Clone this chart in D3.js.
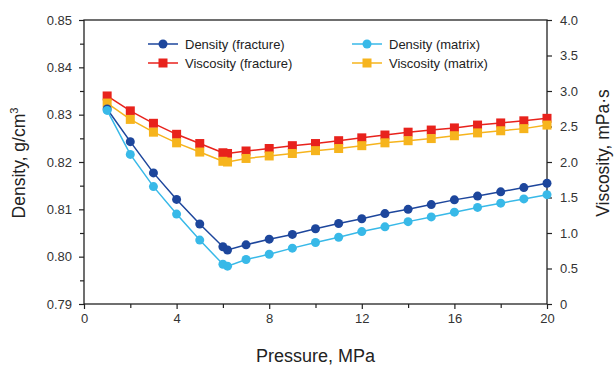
<!DOCTYPE html>
<html>
<head>
<meta charset="utf-8">
<script src="https://cdn.jsdelivr.net/npm/d3@7"></script>
<style>
  body { margin: 0; background: #fff; }
  text { font-family: "Liberation Sans", Arial, sans-serif; }
</style>
</head>
<body>
<div id="chart"></div>
<script>
// pressure, MPa (extra point at the bubble point near 6.2)
const pressure = [1, 2, 3, 4, 5, 6, 6.2, 7, 8, 9, 10, 11, 12, 13, 14, 15, 16, 17, 18, 19, 20]
const densityFracture = [0.8312, 0.8243, 0.8177, 0.8121, 0.8069, 0.8021, 0.8014, 0.8025, 0.8037, 0.8047, 0.8059,
  0.8070, 0.8080, 0.8091, 0.8100, 0.8110, 0.8120, 0.8128, 0.8137, 0.8146, 0.8155]
const densityMatrix = [0.8309, 0.8216, 0.8148, 0.8090, 0.8035, 0.7984, 0.7980, 0.7994, 0.8005, 0.8018, 0.8030,
  0.8041, 0.8053, 0.8063, 0.8074, 0.8084, 0.8094, 0.8104, 0.8113, 0.8122, 0.8131]
const viscosityFracture = [2.93, 2.72, 2.545, 2.39, 2.26, 2.13, 2.12, 2.155, 2.19, 2.23, 2.26,
  2.30, 2.34, 2.38, 2.42, 2.45, 2.48, 2.52, 2.55, 2.58, 2.615]
const viscosityMatrix = [2.83, 2.60, 2.42, 2.27, 2.14, 2.01, 2.00, 2.05, 2.085, 2.12, 2.16,
  2.19, 2.23, 2.27, 2.30, 2.33, 2.37, 2.41, 2.44, 2.47, 2.52]

const xTicks = [0, 4, 8, 12, 16, 20]
const xMinorTicks = [2, 6, 10, 14, 18]
const densityTicks = [0.79, 0.80, 0.81, 0.82, 0.83, 0.84, 0.85]
const densityMinorTicks = [0.795, 0.805, 0.815, 0.825, 0.835, 0.845]
const viscosityTicks = [0, 0.5, 1.0, 1.5, 2.0, 2.5, 3.0, 3.5, 4.0]

const SERIES = [
  { name: "Viscosity (fracture)", values: viscosityFracture, axis: "right", color: "#e8221c", shape: "square" },
  { name: "Viscosity (matrix)", values: viscosityMatrix, axis: "right", color: "#f6b41d", shape: "square" },
  { name: "Density (fracture)", values: densityFracture, axis: "left", color: "#1d469c", shape: "circle" },
  { name: "Density (matrix)", values: densityMatrix, axis: "left", color: "#38b9e8", shape: "circle" }
]
const LEGEND_ORDER = [2, 3, 0, 1]

var margin = {top: 20, right: 67, bottom: 64, left: 84}
var width = 614 - margin.left - margin.right
var height = 368 - margin.top - margin.bottom

var svg = d3.select("#chart").append("svg")
  .attr("width", 614)
  .attr("height", 368)
var g = svg.append("g")
  .attr("transform", "translate(" + margin.left + "," + margin.top + ")")

var x = d3.scaleLinear().domain([0, 20]).range([0, width])
var yLeft = d3.scaleLinear().domain([0.79, 0.85]).range([height, 0])
var yRight = d3.scaleLinear().domain([0, 4]).range([height, 0])

function styleAxis(sel) {
  sel.select(".domain").remove()
  sel.selectAll("line").attr("stroke", "#222").attr("stroke-width", 1.2)
  sel.selectAll("text").attr("fill", "#333").style("font-size", "13px")
}

// minor ticks
g.append("g")
  .attr("transform", "translate(0," + height + ")")
  .call(d3.axisBottom(x).tickValues(xMinorTicks).tickSize(4).tickFormat(""))
  .call(styleAxis)
g.append("g")
  .call(d3.axisLeft(yLeft).tickValues(densityMinorTicks).tickSize(4).tickFormat(""))
  .call(styleAxis)

// Add X axis
g.append("g")
  .attr("transform", "translate(0," + height + ")")
  .call(d3.axisBottom(x).tickValues(xTicks).tickSize(5).tickPadding(5).tickFormat(d3.format("d")))
  .call(styleAxis)
// Add Y axes
g.append("g")
  .call(d3.axisLeft(yLeft).tickValues(densityTicks).tickSize(5).tickPadding(7).tickFormat(d3.format(".2f")))
  .call(styleAxis)
g.append("g")
  .attr("transform", "translate(" + width + ",0)")
  .call(d3.axisRight(yRight).tickValues(viscosityTicks).tickSize(5).tickPadding(8)
    .tickFormat(d => d === 0 ? "0" : d3.format(".1f")(d)))
  .call(styleAxis)

// frame
g.append("rect")
  .attr("width", width)
  .attr("height", height)
  .attr("fill", "none")
  .attr("stroke", "#222")
  .attr("stroke-width", 1.3)

// Add the lines
for (let s of SERIES) {
  var y = s.axis == "left" ? yLeft : yRight
  var pts = pressure.map((p, i) => [x(p), y(s.values[i])])
  g.append("path")
    .datum(pts)
    .attr("fill", "none")
    .attr("stroke", s.color)
    .attr("stroke-width", 1.5)
    .attr("d", d3.line())
  drawMarkers(g, pts, s)
}

function drawMarkers(parent, pts, s) {
  if (s.shape == "circle") {
    parent.append("g").selectAll("circle")
      .data(pts).join("circle")
      .attr("cx", d => d[0])
      .attr("cy", d => d[1])
      .attr("r", 4.5)
      .attr("fill", s.color)
  } else {
    parent.append("g").selectAll("rect")
      .data(pts).join("rect")
      .attr("x", d => d[0] - 4.5)
      .attr("y", d => d[1] - 4.5)
      .attr("width", 9)
      .attr("height", 9)
      .attr("fill", s.color)
  }
}

// legend
var legend = svg.append("g")
LEGEND_ORDER.forEach((idx, k) => {
  var s = SERIES[idx]
  var lx = k % 2 == 0 ? 148 : 352
  var ly = k < 2 ? 44 : 63
  legend.append("line")
    .attr("x1", lx).attr("x2", lx + 30)
    .attr("y1", ly).attr("y2", ly)
    .attr("stroke", s.color)
    .attr("stroke-width", 1.5)
  drawMarkers(legend, [[lx + 15, ly]], s)
  legend.append("text")
    .attr("x", lx + 37)
    .attr("y", ly)
    .attr("dominant-baseline", "central")
    .attr("fill", "#222")
    .style("font-size", "13px")
    .text(s.name)
})

// axis titles
svg.append("text")
  .attr("x", margin.left + width / 2)
  .attr("y", 362)
  .attr("text-anchor", "middle")
  .attr("fill", "#222")
  .style("font-size", "18px")
  .text("Pressure, MPa")

var leftTitle = svg.append("text")
  .attr("transform", "translate(19,163) rotate(-90)")
  .attr("text-anchor", "middle")
  .attr("dominant-baseline", "central")
  .attr("fill", "#222")
  .style("font-size", "17.5px")
leftTitle.append("tspan").text("Density, g/cm")
leftTitle.append("tspan").attr("dy", "-0.45em").style("font-size", "11px").text("3")

svg.append("text")
  .attr("transform", "translate(603,153) rotate(-90)")
  .attr("text-anchor", "middle")
  .attr("dominant-baseline", "central")
  .attr("fill", "#222")
  .style("font-size", "17.5px")
  .text("Viscosity, mPa·s")
</script>
</body>
</html>
